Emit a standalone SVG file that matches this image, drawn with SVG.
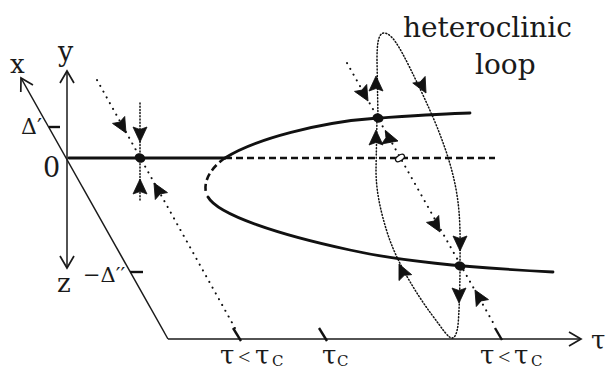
<svg xmlns="http://www.w3.org/2000/svg" width="606" height="369" viewBox="0 0 606 369">
<style>
.ax{fill:none;stroke:#1a1a1a;stroke-width:1.5}
.br{fill:none;stroke:#111;stroke-width:2.8;stroke-linecap:round}
.dash{fill:none;stroke:#111;stroke-width:2.6;stroke-dasharray:7 4}
.sp{fill:none;stroke:#111;stroke-width:2;stroke-dasharray:0.1 6.5;stroke-linecap:round}
.dn{fill:none;stroke:#111;stroke-width:1.5;stroke-dasharray:1 2.2;stroke-linecap:round}
.tk{fill:none;stroke:#111;stroke-width:2.4}
.t{font-family:"DejaVu Serif","Liberation Serif",serif;fill:#1a1a1a}
.ah{fill:#111;stroke:#111;stroke-width:0.8;stroke-linejoin:round}
</style>
<defs>
<marker id="open" viewBox="-15 -9 17 18" refX="0" refY="0" markerWidth="17" markerHeight="18" orient="auto" markerUnits="userSpaceOnUse">
<path d="M-12,-7 L0,0 L-12,7" fill="none" stroke="#1a1a1a" stroke-width="1.7"/>
</marker>
<path id="ah" d="M0,0 L-15,-7 L-12.5,0 L-15,7 Z"/>
</defs>

<g id="axes">
<line class="ax" x1="67" y1="158" x2="67" y2="71" marker-end="url(#open)"/>
<line class="ax" x1="67" y1="158" x2="67" y2="268" marker-end="url(#open)"/>
<line class="ax" x1="168" y1="339" x2="21" y2="78" marker-end="url(#open)"/>
<line class="ax" x1="168" y1="339" x2="581" y2="339" marker-end="url(#open)"/>
<line class="tk" x1="49" y1="127" x2="60" y2="127"/>
<line class="tk" x1="130" y1="272" x2="143" y2="272"/>
<line class="tk" x1="233" y1="328" x2="241" y2="341"/>
<line class="tk" x1="319" y1="328" x2="327" y2="341"/>
<line class="tk" x1="495" y1="328" x2="502" y2="340"/>
</g>

<g id="labels" class="t">
<text x="10" y="73" font-size="26">x</text>
<text x="58" y="61" font-size="27">y</text>
<text x="43" y="177" font-size="27">0</text>
<text x="21" y="134" font-size="22">Δ′</text>
<text x="57" y="292" font-size="26">z</text>
<text x="83" y="282" font-size="21">−Δ′′</text>
<text x="403" y="37" font-size="28">heteroclinic</text>
<text x="475" y="74" font-size="28">loop</text>
<text x="591" y="349" font-size="26">τ</text>
<text y="364" font-size="26"><tspan x="220">τ</tspan><tspan x="238" font-family="Liberation Serif" font-size="22">&lt;</tspan><tspan x="255">τ</tspan><tspan x="272" y="366" font-size="15">C</tspan></text>
<text y="364" font-size="26"><tspan x="322">τ</tspan><tspan x="337" y="366" font-size="15">C</tspan></text>
<text y="364" font-size="26"><tspan x="480">τ</tspan><tspan x="498" font-family="Liberation Serif" font-size="22">&lt;</tspan><tspan x="514">τ</tspan><tspan x="531" y="366" font-size="15">C</tspan></text>
</g>

<g id="branches">
<path class="br" d="M69,158 L225,158"/>
<path class="dash" d="M225,158 L495,158"/>
<path class="br" d="M225,158 C255,139 320,122 378,118 C410,116 440,114 470,113"/>
<path class="dash" d="M225,158 C212,167 203,180 206,193" stroke-dasharray="6 4"/>
<path class="br" d="M208,197 C218,215 280,235 350,250 C400,261 460,267 553,272"/>
</g>

<g id="connectors">
<line class="sp" x1="97" y1="80" x2="235" y2="328"/>
<line class="dn" x1="140" y1="103" x2="140" y2="200"/>
<line class="sp" x1="347" y1="63" x2="495" y2="326"/>
<path class="dn" d="M378,118 L377,60 C377,45 378,33 384,33 C392,33 400,48 410,68 C428,105 450,150 457,195 C461,220 460,245 460,266 C460,290 459,315 458,325 C457,333 455,338 452,338 C448,338 442,328 432,315 C415,292 397,262 388,235 C380,210 376,190 376,170 L377,118"/>
</g>

<g id="points">
<ellipse cx="140" cy="158" rx="5.5" ry="4.5" transform="rotate(30 140 158)" fill="#111"/>
<ellipse cx="378" cy="118" rx="5.5" ry="4.5" transform="rotate(20 378 118)" fill="#111"/>
<ellipse cx="460" cy="266" rx="5.5" ry="4.5" transform="rotate(20 460 266)" fill="#111"/>
<ellipse cx="400" cy="158" rx="5" ry="2.8" transform="rotate(-35 400 158)" fill="#fff" stroke="#111" stroke-width="1.3"/>
</g>

<g id="arrows" class="ah">
<use href="#ah" transform="translate(126,133) rotate(60.5)"/>
<use href="#ah" transform="translate(140,142) rotate(90)"/>
<use href="#ah" transform="translate(140,179) rotate(270)"/>
<use href="#ah" transform="translate(154,183) rotate(240.5)"/>
<use href="#ah" transform="translate(368,101) rotate(60.5)"/>
<use href="#ah" transform="translate(376,76) rotate(270)"/>
<use href="#ah" transform="translate(376,130) rotate(270)"/>
<use href="#ah" transform="translate(398,141) rotate(15)"/>
<use href="#ah" transform="translate(426,93) rotate(62)"/>
<use href="#ah" transform="translate(440,232) rotate(60.5)"/>
<use href="#ah" transform="translate(460,251) rotate(90)"/>
<use href="#ah" transform="translate(459,303) rotate(90)"/>
<use href="#ah" transform="translate(475,290) rotate(240.5)"/>
<use href="#ah" transform="translate(399,264) rotate(245)"/>
</g>
</svg>
